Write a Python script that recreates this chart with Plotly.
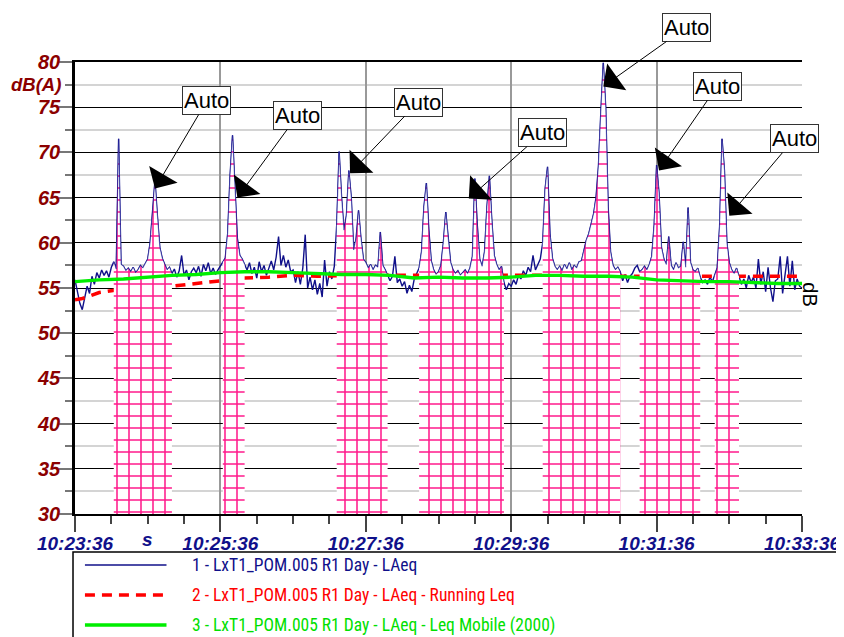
import plotly.graph_objects as go

# ---------------- data ----------------
# time axis in seconds from 10:23:36, 2-second samples
t_laeq = list(range(0, 601, 2))
laeq = [
    55.9, 54.6, 53.3, 52.6, 53.8, 55.2, 54.4, 56.3, 55.4, 56.7,
    56.1, 57.0, 56.4, 56.9, 56.2, 57.3, 57.9, 57.1, 71.5, 57.6,
    57.4, 56.9, 57.2, 56.8, 57.3, 56.7, 57.0, 57.5, 57.2, 57.8,
    58.2, 60.0, 63.5, 66.9, 63.0, 59.5, 58.3, 57.6, 57.0, 57.3,
    56.6, 57.1, 56.2, 56.9, 58.6, 56.4, 57.0, 55.9, 56.8, 57.2,
    56.7, 57.4, 56.3, 57.6, 56.9, 57.8, 56.6, 57.2, 56.5, 57.0,
    57.4, 57.9, 58.3, 61.0, 67.5, 71.9, 66.5, 60.5, 58.6, 58.2,
    57.6, 57.0, 57.8, 56.6, 57.3, 56.1, 57.9, 56.8, 57.5, 56.4,
    57.2, 58.0, 57.0, 58.4, 60.7, 57.5, 58.6, 57.3, 58.1, 56.8,
    57.0, 55.6, 56.8, 55.4, 57.2, 60.9, 55.0, 56.2, 54.8, 55.9,
    54.3, 55.5, 54.0, 58.1, 55.2, 56.8, 56.0, 57.4, 62.0, 70.1,
    65.0, 61.4, 63.0, 68.0, 65.0, 59.2, 60.5, 63.6, 60.5, 58.2,
    57.8, 57.2, 57.6, 57.0, 57.5, 57.3, 61.2, 57.5, 57.0, 56.4,
    55.8, 56.3, 58.5, 55.6, 56.0, 55.2, 55.7, 54.4, 55.3, 54.6,
    56.0, 56.6, 57.2, 59.0, 64.0, 66.6, 61.5, 58.0, 57.0, 56.5,
    56.8, 57.5, 60.0, 63.4, 60.5, 57.8, 57.0, 56.6, 56.9, 56.4,
    56.7, 57.0, 56.6, 57.2, 58.5, 67.1, 62.0, 58.2, 57.4, 59.0,
    64.0, 67.4, 62.5, 58.6, 57.6, 57.0, 57.4, 55.6, 54.8, 55.5,
    55.2, 55.9, 55.4, 56.4, 56.0, 56.9, 56.4, 57.3, 56.8, 58.6,
    57.0, 57.6, 58.2, 60.0, 66.0, 68.4, 61.0, 58.3, 57.4, 57.0,
    57.4, 56.9, 57.6, 57.1, 57.8, 57.0, 57.5, 57.2, 57.9, 58.0,
    59.3, 60.3, 61.0, 62.0, 63.2, 65.0, 68.5, 74.5, 79.9, 75.0,
    64.0, 59.0, 57.5, 57.0, 57.3, 56.8, 55.8, 56.5, 55.6, 56.3,
    56.6, 57.2, 57.5, 56.8, 57.0, 57.4, 57.0, 57.6, 58.5, 62.0,
    68.6, 65.5, 59.5, 58.2, 57.6, 60.7, 57.5, 57.0, 57.8, 57.2,
    57.4, 60.1, 57.3, 63.9, 57.8, 57.0, 56.8, 57.2, 56.2, 55.6,
    55.9, 55.4, 56.2, 55.7, 56.4, 57.2, 61.8, 71.5, 68.0, 60.0,
    57.8, 57.0, 56.6, 57.2, 56.3, 55.4, 56.0, 55.0, 56.4, 55.6,
    56.2, 55.0, 58.2, 55.4, 56.8, 54.6, 57.3, 55.0, 53.5, 55.8,
    56.0, 58.5, 54.4, 56.6, 58.5, 55.2, 58.0, 54.8, 56.0, 55.2,
    55.0,
]

running_t = [0, 5, 10, 20, 30, 40, 60, 80, 100, 120, 140, 160, 180, 200,
             240, 280, 320, 360, 400, 440, 480, 520, 560, 600]
running_leq = [53.7, 53.8, 54.0, 54.5, 54.7, 54.9, 55.1, 55.2, 55.5, 55.8,
               56.1, 56.2, 56.4, 56.3, 56.4, 56.4, 56.4, 56.4, 56.4, 56.3,
               56.3, 56.3, 56.3, 56.3]

mobile_t = list(range(0, 601, 20))
mobile_leq = [55.7, 55.9, 56.0, 56.2, 56.4, 56.5, 56.7, 56.8, 56.8, 56.7,
              56.6, 56.5, 56.5, 56.4, 56.1, 56.2, 56.1, 56.1, 56.2, 56.4,
              56.4, 56.3, 56.3, 56.2, 55.9, 55.8, 55.7, 55.7, 55.6, 55.5,
              55.5]

# marked (hatched) periods, seconds
marked_periods = [(32, 80), (122, 140), (216, 258), (284, 354),
                  (386, 450), (466, 516), (528, 548)]

# "Auto" markers: arrow tip (s, dB) and label offsets
auto_t = [66, 134, 227, 325, 436, 482, 540]
auto_db = [66.0, 65.0, 67.7, 64.9, 77.3, 68.0, 63.0]
auto_ax = [52, 60, 68, 74, 83, 58, 65]
auto_ay = [-88, -82, -71, -66, -59, -84, -77]

x_tickvals = [0, 120, 240, 360, 480, 600]
x_ticktext = ["10:23:36", "10:25:36", "10:27:36", "10:29:36", "10:31:36", "10:33:36"]

legend_names = ["1 - LxT1_POM.005 R1 Day - LAeq",
                "2 - LxT1_POM.005 R1 Day - LAeq - Running Leq",
                "3 - LxT1_POM.005 R1 Day - LAeq - Leq Mobile (2000)"]

NAVY = "#10108a"
RED = "#ff0000"
GREEN = "#00ee00"
PINK = "#ff1a8c"
DARKRED = "#8b0000"

fig = go.Figure()

fig.add_trace(go.Scatter(x=t_laeq, y=laeq, mode="lines",
                         line=dict(color=NAVY, width=1.4),
                         showlegend=False, hoverinfo="skip"))
fig.add_trace(go.Scatter(x=running_t, y=running_leq, mode="lines",
                         line=dict(color=RED, width=3.5, dash="10px,7px"),
                         showlegend=False, hoverinfo="skip"))

for a, b in marked_periods:
    xs = [t for t in t_laeq if a <= t <= b]
    ys = [v for t, v in zip(t_laeq, laeq) if a <= t <= b]
    fig.add_trace(go.Scatter(
        x=xs, y=ys, mode="lines",
        line=dict(color="rgba(30,30,150,0.55)", width=1),
        fill="tozeroy", fillcolor="white",
        fillpattern=dict(shape="+", size=12, solidity=0.24,
                         fgcolor=PINK, bgcolor="white", fillmode="replace"),
        showlegend=False, hoverinfo="skip"))

fig.add_trace(go.Scatter(x=mobile_t, y=mobile_leq, mode="lines",
                         line=dict(color=GREEN, width=3.4),
                         showlegend=False, hoverinfo="skip"))

annotations = []
for t, v, ax, ay in zip(auto_t, auto_db, auto_ax, auto_ay):
    annotations.append(dict(
        x=t, y=v, xref="x", yref="y", text="Auto", showarrow=True,
        ax=ax, ay=ay, arrowhead=1, arrowsize=5.5, arrowwidth=1,
        arrowcolor="black", bgcolor="white", bordercolor="#333333",
        borderwidth=1, borderpad=1,
        font=dict(family="Liberation Sans, Arial", size=22, color="black")))

annotations.append(dict(x=0, y=77.5, xref="paper", yref="y", text="dB(A)",
                        showarrow=False, xanchor="right", xshift=-12,
                        font=dict(family="Liberation Sans, Arial", size=18.5,
                                  color=DARKRED, weight="bold", style="italic")))
annotations.append(dict(x=60, y=-0.057, xref="x", yref="paper", text="s",
                        showarrow=False, yanchor="middle",
                        font=dict(family="Liberation Sans, Arial", size=19,
                                  color=NAVY, weight="bold", style="italic")))
annotations.append(dict(x=1, y=54.3, xref="paper", yref="y", text="dB",
                        showarrow=False, textangle=90, xanchor="center",
                        xshift=8,
                        font=dict(family="Liberation Sans, Arial", size=20,
                                  color="black")))

# ---- legend box (drawn manually) ----
PW, PH = 731.0, 452.0
def px_x(px):
    return (px - 75) / PW
def px_y(py):
    return (514 - py) / PH

shapes = [dict(type="rect", xref="paper", yref="paper",
               x0=px_x(73), x1=px_x(900), y0=px_y(552), y1=px_y(700),
               line=dict(color="black", width=1.5), fillcolor="white", layer="above")]
legend_colors = [NAVY, RED, GREEN]
legend_widths = [1.4, 3.5, 3.4]
legend_dash = ["solid", "10px,7px", "solid"]
legend_text_colors = [NAVY, RED, "#00e000"]
for i, name in enumerate(legend_names):
    yy = px_y(565 + 30 * i)
    shapes.append(dict(type="line", xref="paper", yref="paper",
                       x0=px_x(85), x1=px_x(167), y0=yy, y1=yy,
                       line=dict(color=legend_colors[i], width=legend_widths[i],
                                 dash=legend_dash[i])))
    annotations.append(dict(x=px_x(191), y=yy, xref="paper", yref="paper",
                            text=name, showarrow=False, xanchor="left",
                            yanchor="middle",
                            font=dict(family="Liberation Sans Narrow, Arial Narrow, Roboto Condensed, Liberation Sans",
                                      size=17.5, color=legend_text_colors[i])))

# the page body adds an 8px offset; margins compensate so the plot area
# sits at x 75..806, y 62..514 in the window
fig.update_layout(
    width=844, height=637,
    margin=dict(l=67, r=46, t=54, b=131),
    paper_bgcolor="white", plot_bgcolor="white",
    showlegend=False,
    annotations=annotations,
    shapes=shapes,
    xaxis=dict(range=[0, 600], tickmode="array", tickvals=x_tickvals,
               ticktext=x_ticktext, ticks="outside", ticklen=16, tickwidth=1.5,
               tickcolor="#444444", ticklabelstandoff=-5,
               showgrid=True, gridcolor="#999999", gridwidth=1.5,
               showline=True, linecolor="black", linewidth=2, mirror=True,
               zeroline=False,
               tickfont=dict(family="Liberation Sans, Arial", size=19,
                             color=NAVY, weight="bold", style="italic"),
               minor=dict(tickmode="linear", tick0=0, dtick=30, ticks="outside",
                          ticklen=8, tickwidth=1.5, tickcolor="#444444",
                          showgrid=False)),
    yaxis=dict(range=[30, 80], tickmode="linear", tick0=30, dtick=5,
               ticks="outside", ticklen=13, tickwidth=1.5, tickcolor="#777777",
               ticklabelstandoff=-5,
               showgrid=True, gridcolor="black", gridwidth=1,
               showline=True, linecolor="black", linewidth=2.5,
               zeroline=False,
               tickfont=dict(family="Liberation Sans, Arial", size=20,
                             color=DARKRED, weight="bold", style="italic"),
               minor=dict(tickmode="linear", tick0=30, dtick=2.5, ticks="outside",
                          ticklen=7, tickwidth=1.5, tickcolor="#777777",
                          showgrid=True, gridcolor="#d4d4d4", gridwidth=2)),
)

fig.write_html("out.html")
